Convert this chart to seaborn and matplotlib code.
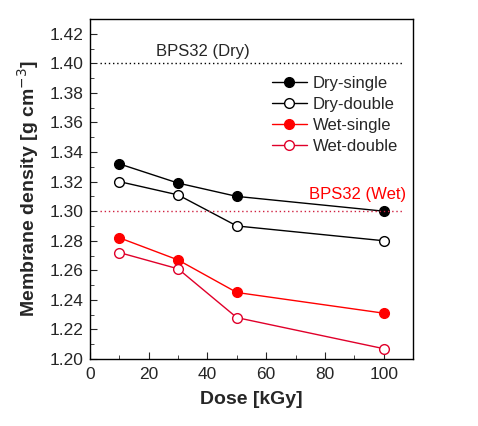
import pandas as pd
import matplotlib
matplotlib.use("Agg")
import matplotlib.pyplot as plt
import seaborn as sns
from matplotlib.ticker import MultipleLocator

# Data
dose = [10, 30, 50, 100]
dry_single = [1.332, 1.319, 1.310, 1.300]
dry_double = [1.320, 1.311, 1.290, 1.280]
wet_single = [1.282, 1.267, 1.245, 1.231]
wet_double = [1.272, 1.261, 1.228, 1.207]
ref_dry = 1.40
ref_wet = 1.30

sns.set_style("ticks")
plt.rcParams['font.family'] = ['Liberation Sans', 'DejaVu Sans']
plt.rcParams['xtick.direction'] = 'in'
plt.rcParams['ytick.direction'] = 'in'

fig = plt.figure(figsize=(4.78, 4.26), dpi=100)
ax = fig.add_axes([90 / 478, 1 - 359 / 426, 323 / 478, 340 / 426])

series = [
    ("Dry-single", dry_single, "black", "black"),
    ("Dry-double", dry_double, "black", "white"),
    ("Wet-single", wet_single, "red", "red"),
    ("Wet-double", wet_double, "#e0002a", "white"),
]
for name, vals, col, face in series:
    df = pd.DataFrame({"dose": dose, "density": vals})
    sns.lineplot(data=df, x="dose", y="density", ax=ax, color=col, lw=1,
                 marker="o", markersize=7, markerfacecolor=face,
                 markeredgecolor=col, markeredgewidth=1, label=name)

# Reference lines
ax.plot([3.5, 107], [ref_dry, ref_dry], ls=(0, (1, 2)), color="black", lw=1)
ax.plot([3.5, 107], [ref_wet, ref_wet], ls=(0, (1, 2)), color="#d02040", lw=1)
ax.text(38.5, ref_dry + 0.003, "BPS32 (Dry)", ha="center", va="bottom", fontsize=12)
ax.text(107.5, ref_wet + 0.0065, "BPS32 (Wet)", ha="right", va="bottom", fontsize=12, color="red")

ax.set_xlim(0, 110)
ax.set_ylim(1.20, 1.43)
ax.xaxis.set_major_locator(MultipleLocator(20))
ax.xaxis.set_minor_locator(MultipleLocator(10))
ax.yaxis.set_major_locator(MultipleLocator(0.02))
ax.yaxis.set_minor_locator(MultipleLocator(0.01))
ax.yaxis.set_major_formatter(matplotlib.ticker.FormatStrFormatter("%.2f"))
ax.tick_params(which="major", length=5, labelsize=12.5)
ax.tick_params(axis="x", which="major", pad=6)
ax.tick_params(axis="y", which="major", pad=5)
ax.tick_params(which="minor", length=3)
for s in ax.spines.values():
    s.set_linewidth(1)
    s.set_color("black")

ax.set_xlabel("Dose [kGy]", fontsize=14, fontweight="bold", labelpad=6)
ax.set_ylabel("Membrane density [g cm$^{-3}$]", fontsize=14, fontweight="bold", labelpad=6)

ax.legend(loc="upper left", bbox_to_anchor=(0.563, 0.832), frameon=False, fontsize=12,
          handlelength=2.1, labelspacing=0.36, handletextpad=0.36,
          borderaxespad=0, borderpad=0)

fig.savefig("out.png", dpi=100)
